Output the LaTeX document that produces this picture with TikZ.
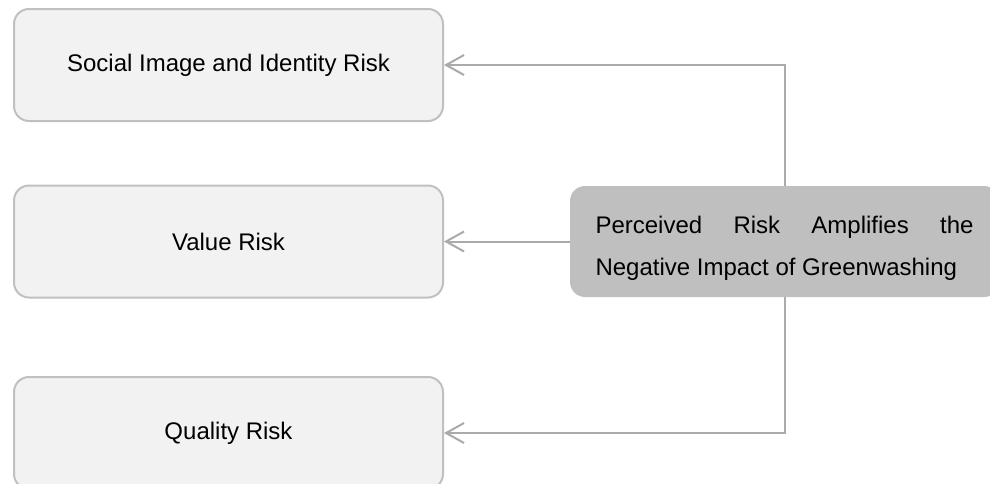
\documentclass[tikz,border=0pt]{standalone}
\usepackage{fontspec}
\setmainfont{Liberation Sans}
\usetikzlibrary{arrows.meta}
\definecolor{boxline}{HTML}{C0C0C0}
\definecolor{boxfill}{HTML}{F2F2F2}
\definecolor{ampfill}{HTML}{BFBFBF}
\definecolor{linkgray}{HTML}{AAAAAA}
\begin{document}
\begin{tikzpicture}[x=1pt,y=-1pt,
    riskbox/.style={draw=boxline,line width=2pt,fill=boxfill,rounded corners=15pt,
      minimum width=429pt,minimum height=112pt,font=\fontsize{24}{29}\selectfont},
    ampbox/.style={fill=ampfill,rounded corners=15pt,minimum width=429pt,minimum height=111pt,
      inner xsep=25.5pt,text width=378pt,align=justify,font=\fontsize{24}{42}\selectfont},
    link/.style={draw=linkgray,line width=2pt,-{Straight Barb[length=18pt,width=20pt]}}]
    \clip (0,0) rectangle (990,483);
    \node[riskbox] (social) at (228.5,65) {Social Image and Identity Risk};
    \node[riskbox] (value) at (228.5,241.5) {Value Risk};
    \node[riskbox] (quality) at (228.5,433) {Quality Risk};
    \node[ampbox] (amp) at (784.5,241.5) {\rule{0pt}{31pt}Perceived Risk Amplifies the\linebreak Negative Impact of Greenwashing};
    \draw[link] (amp.north) |- (social.east);
    \draw[link] (amp.west) -- (value.east);
    \draw[link] (amp.south) |- (quality.east);
\end{tikzpicture}
\end{document}
